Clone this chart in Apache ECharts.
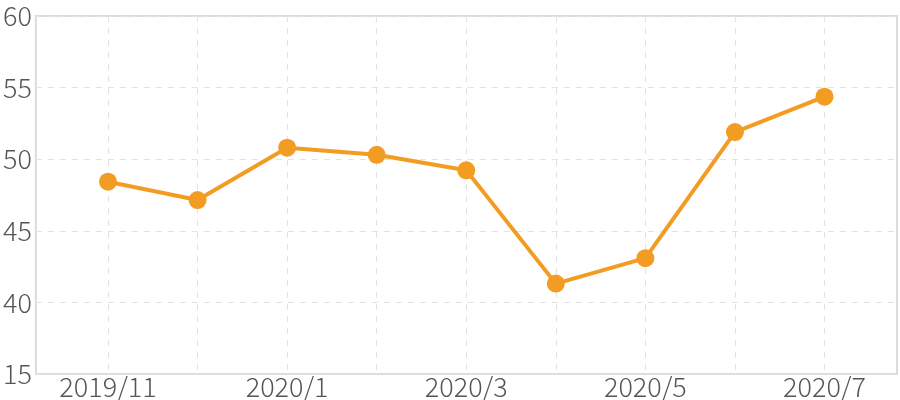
<!DOCTYPE html>
<html><head><meta charset="utf-8">
<script src="https://cdn.jsdelivr.net/npm/echarts@6/dist/echarts.min.js"></script>
<style>html,body{margin:0;padding:0;background:#fff}#c{width:900px;height:400px}</style>
</head><body><div id="c"></div>
<script>
const categories = ['2019/11','2019/12','2020/1','2020/2','2020/3','2020/4','2020/5','2020/6','2020/7'];
const values = [48.3, 47.0, 50.7, 50.2, 49.1, 41.1, 42.9, 51.8, 54.3];
const yTickValues = [35, 40, 45, 50, 55, 60];
const yTickLabels = ['15', '40', '45', '50', '55', '60'];

const chart = echarts.init(document.getElementById('c'), null, {renderer: 'canvas'});
const font = '"Noto Sans CJK JP", "Noto Sans", sans-serif';
const dash = {color: '#e3e3e3', type: [6, 6], width: 1};
chart.setOption({
  animation: false,
  grid: [
    {left: 108, right: 75.5, top: 16, bottom: 26, show: false},
    {left: 33, right: 3, top: 16, bottom: 26, show: true, borderColor: '#dcdcdc', borderWidth: 2}
  ],
  xAxis: [{
    gridIndex: 0, type: 'category', data: categories, boundaryGap: false,
    axisLine: {show: false}, axisTick: {show: false},
    splitLine: {show: true, interval: 0, lineStyle: dash},
    axisLabel: {interval: 1, margin: 3, color: '#555', fontSize: 27, fontWeight: 300, fontFamily: font}
  }, {
    gridIndex: 1, type: 'value', min: 0, max: 1, show: false,
    splitLine: {show: false}
  }],
  yAxis: [{
    gridIndex: 0, type: 'value', min: 35, max: 60, interval: 5, show: false,
    splitLine: {show: false}
  }, {
    gridIndex: 1, type: 'value', min: 35, max: 60, interval: 5,
    axisLine: {show: false}, axisTick: {show: false},
    splitLine: {show: true, lineStyle: dash},
    axisLabel: {
      margin: 4, color: '#555', fontSize: 27, fontWeight: 300, fontFamily: font,
      formatter: function (v) { const i = yTickValues.indexOf(v); return i >= 0 ? yTickLabels[i] : ''; }
    }
  }],
  series: [{
    type: 'line', xAxisIndex: 0, yAxisIndex: 0,
    data: values,
    symbol: 'circle', symbolSize: 18,
    lineStyle: {color: '#f39c24', width: 4},
    itemStyle: {color: '#f39c24'}
  }]
});
</script></body></html>
